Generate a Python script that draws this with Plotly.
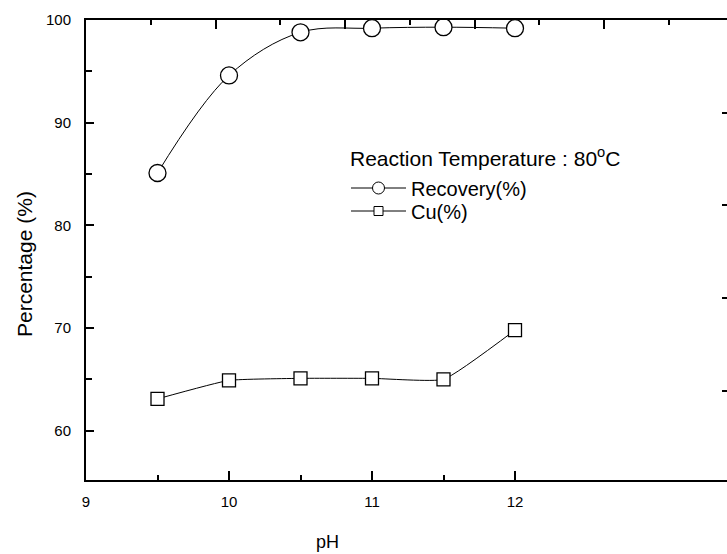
import plotly.graph_objects as go

ph = [9.5, 10, 10.5, 11, 11.5, 12]
recovery = [85.1, 94.6, 98.8, 99.2, 99.3, 99.2]
cu = [63.1, 64.9, 65.1, 65.1, 65.0, 69.8]

x_ticks = [9, 10, 11, 12]
x_minor = [9.5, 10.5, 11.5]
y_ticks = [60, 70, 80, 90, 100]
y_minor = [60, 65, 70, 75, 80, 85, 90, 95]

FONT = "Liberation Sans, Arial, sans-serif"

# page-pixel geometry of plot area
W, H = 727, 554
L, T, R, B = 86, 20, 727, 480
PW, PH = R - L, B - T


def px(xp):
    return (xp - L) / PW


def py(yp):
    return (B - yp) / PH


fig = go.Figure()
fig.add_trace(go.Scatter(
    x=ph, y=recovery, name="Recovery(%)", mode="lines+markers", showlegend=False,
    line=dict(color="black", width=1, shape="spline", smoothing=1.0),
    marker=dict(symbol="circle", size=17, color="white", line=dict(color="black", width=1.3)),
))
fig.add_trace(go.Scatter(
    x=ph, y=cu, name="Cu(%)", mode="lines+markers", showlegend=False,
    line=dict(color="black", width=1, shape="spline", smoothing=0.4),
    marker=dict(symbol="square", size=13, color="white", line=dict(color="black", width=1.3)),
))
# legend entries
fig.add_trace(go.Scatter(
    x=[None], y=[None], name="Recovery(%)", mode="lines+markers", legend="legend",
    line=dict(color="black", width=1),
    marker=dict(symbol="circle", size=12, color="white", line=dict(color="black", width=1)),
))
fig.add_trace(go.Scatter(
    x=[None], y=[None], name="Cu(%)", mode="lines+markers", legend="legend2",
    line=dict(color="black", width=1),
    marker=dict(symbol="square", size=9, color="white", line=dict(color="black", width=1)),
))
# invisible trace to activate the secondary (top/right) axes
fig.add_trace(go.Scatter(x=[0], y=[0], xaxis="x2", yaxis="y2", mode="markers",
                         marker=dict(opacity=0), showlegend=False, hoverinfo="skip"))

leg_common = dict(xanchor="left", yanchor="middle", bgcolor="rgba(0,0,0,0)", borderwidth=0,
                  font=dict(size=20, family=FONT), itemsizing="trace", itemwidth=55)

fig.update_layout(
    width=W, height=H,
    margin=dict(l=L, r=W - R, t=T, b=H - B),
    paper_bgcolor="white", plot_bgcolor="white",
    font=dict(family=FONT, color="black", size=15),
    showlegend=True,
    legend=dict(x=px(346), y=py(188), **leg_common),
    legend2=dict(x=px(346), y=py(211), **leg_common),
    xaxis=dict(
        range=[9, 9 + PW / 143.0], showgrid=False, zeroline=False,
        showline=True, linecolor="black", linewidth=2,
        ticks="inside", ticklen=9, tickwidth=2, tickcolor="black",
        tickvals=x_ticks, ticktext=[str(v) for v in x_ticks],
        ticklabelstandoff=7,
        minor=dict(tickvals=x_minor, ticks="inside", ticklen=5, tickwidth=2, tickcolor="black"),
        tickfont=dict(size=15),
    ),
    yaxis=dict(
        range=[55.2, 100], showgrid=False, zeroline=False,
        showline=True, linecolor="black", linewidth=2,
        ticks="inside", ticklen=8, tickwidth=2, tickcolor="black",
        tickvals=y_ticks, ticktext=[str(v) for v in y_ticks],
        ticklabelstandoff=10,
        minor=dict(tickvals=y_minor, ticks="inside", ticklen=6, tickwidth=2, tickcolor="black"),
        tickfont=dict(size=15),
    ),
    xaxis2=dict(
        overlaying="x", side="top", range=[0, PW / 129.5],
        showgrid=False, zeroline=False, showline=True, linecolor="black", linewidth=2,
        ticks="inside", ticklen=9, tickwidth=2, tickcolor="black",
        tickvals=[1, 2, 3, 4], showticklabels=False,
        minor=dict(tickvals=[0.5, 1.5, 2.5, 3.5, 4.5], ticks="inside", ticklen=5, tickwidth=2, tickcolor="black"),
    ),
    yaxis2=dict(
        overlaying="y", side="right", range=[-PH / 92.7, 0],
        showgrid=False, zeroline=False, showline=False,
        ticks="inside", ticklen=5, tickwidth=2, tickcolor="black",
        tickvals=[-1, -2, -3, -4], showticklabels=False,
    ),
    annotations=[
        dict(text="Reaction Temperature : 80<sup>o</sup>C", xref="paper", yref="paper",
             x=px(348), y=py(157), xanchor="left", yanchor="middle", showarrow=False,
             font=dict(size=21)),
        dict(text="pH", xref="x", yref="paper", x=10.69, y=py(542),
             xanchor="center", yanchor="middle", showarrow=False, font=dict(size=18)),
        dict(text="Percentage (%)", xref="paper", yref="paper", x=px(24),
             y=py(264), xanchor="center", yanchor="middle", textangle=-90,
             showarrow=False, font=dict(size=21)),
    ],
)

fig.write_html(
    "out.html",
    config={"displayModeBar": False},
    post_script="document.body.style.margin='0';document.body.style.overflow='hidden';",
)
